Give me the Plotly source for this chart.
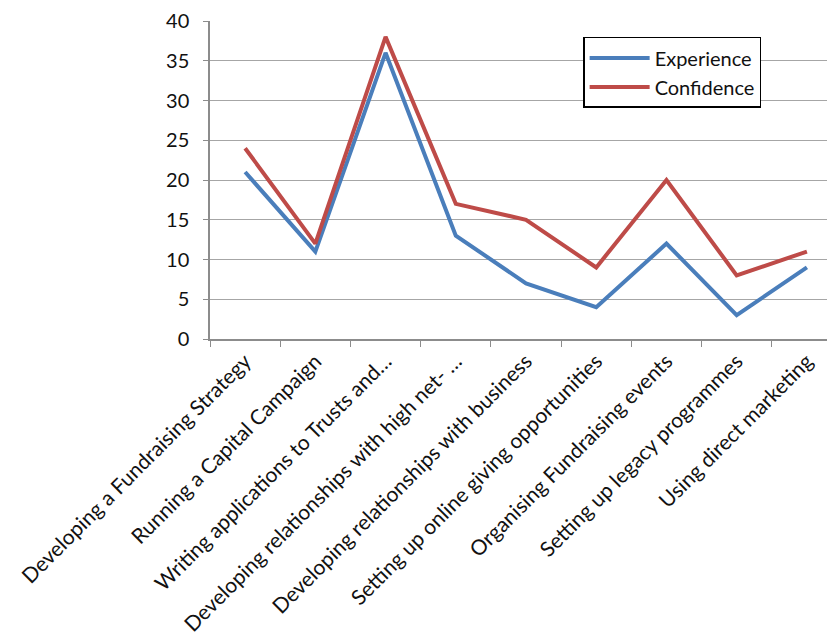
import plotly.graph_objects as go

categories = [
    "Developing a Fundraising Strategy",
    "Running a Capital Campaign",
    "Writing applications to Trusts and…",
    "Developing relationships with high net- …",
    "Developing relationships with business",
    "Setting up online giving opportunities",
    "Organising Fundraising events",
    "Setting up legacy programmes",
    "Using direct marketing",
]
experience = [21, 11, 36, 13, 7, 4, 12, 3, 9]
confidence = [24, 12, 38, 17, 15, 9, 20, 8, 11]
y_ticks = [0, 5, 10, 15, 20, 25, 30, 35, 40]

FONT = "Lato"

fig = go.Figure()
fig.add_trace(go.Scatter(x=categories, y=experience, mode="lines", name="Experience",
                         line=dict(color="#4a7ebb", width=4)))
fig.add_trace(go.Scatter(x=categories, y=confidence, mode="lines", name="Confidence",
                         line=dict(color="#be4b48", width=4)))

fig.update_layout(
    width=827, height=631,
    margin=dict(l=202, r=0, t=13, b=300),
    paper_bgcolor="white", plot_bgcolor="white",
    font=dict(family=FONT, size=20, color="#111111"),
    showlegend=True,
    legend=dict(x=0.597, y=0.95, xanchor="left", yanchor="top",
                bordercolor="black", borderwidth=1.5, bgcolor="white",
                font=dict(family=FONT, size=20, color="#111111"),
                tracegroupgap=0, itemwidth=60),
)
fig.update_xaxes(
    type="category", range=[-0.5, 8.4], automargin=False,
    tickangle=-45, tickfont=dict(family=FONT, size=21, color="#111111"),
    showgrid=False, showline=True, linecolor="#8c8c8c", linewidth=1.5,
    ticks="outside", tickson="boundaries", ticklen=6, tickcolor="#8c8c8c",
    ticklabeloverflow="allow",
)
fig.update_yaxes(
    range=[0, 40], tickvals=y_ticks, automargin=False,
    tickfont=dict(family=FONT, size=20, color="#111111"),
    showgrid=True, gridcolor="#a6a6a6", gridwidth=1.2,
    showline=True, linecolor="#8c8c8c", linewidth=1.5,
    ticks="outside", ticklen=5, tickcolor="#8c8c8c",
    zeroline=False, ticklabelstandoff=10, ticklabeloverflow="allow",
)

fig.write_html("out.html")
